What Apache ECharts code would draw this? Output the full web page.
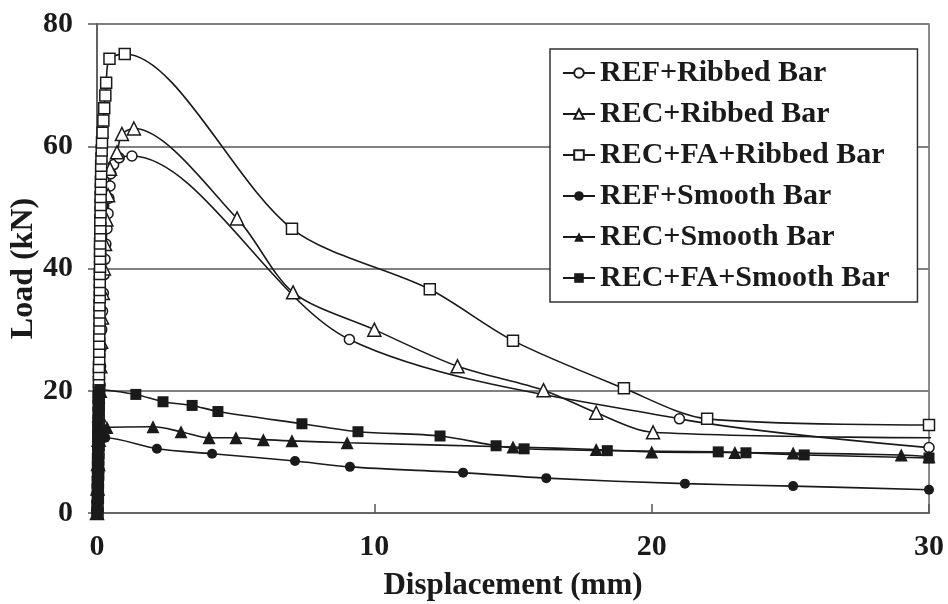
<!DOCTYPE html>
<html>
<head>
<meta charset="utf-8">
<style>
  html, body { margin: 0; padding: 0; background: #ffffff; }
  #chart { width: 948px; height: 604px; }
</style>
<script src="https://cdn.jsdelivr.net/npm/echarts@6/dist/echarts.min.js"></script>
</head>
<body>
<div id="chart"></div>
<script>
// Load–displacement curves of pull-out tests, [displacement (mm), load (kN)]
var seriesNames = [
  'REF+Ribbed Bar',
  'REC+Ribbed Bar',
  'REC+FA+Ribbed Bar',
  'REF+Smooth Bar',
  'REC+Smooth Bar',
  'REC+FA+Smooth Bar'
];

var refRibbed = [
  [0.00, 0], [0.02, 3], [0.03, 6], [0.05, 9], [0.06, 12], [0.08, 15], [0.09, 18],
  [0.11, 21], [0.13, 24], [0.15, 27], [0.17, 30], [0.2, 33], [0.23, 36], [0.26, 39],
  [0.29, 41.5], [0.32, 44], [0.36, 46.5], [0.4, 49], [0.43, 51.5], [0.47, 53.5],
  [0.5, 55.5], [0.6, 57], [0.8, 58.1], [1.26, 58.4], [9.1, 28.4], [21.0, 15.4], [30, 10.7]
];

var recRibbed = [
  [0.00, 0], [0.02, 4], [0.04, 8], [0.06, 12], [0.08, 16], [0.1, 20], [0.12, 24],
  [0.15, 28], [0.18, 32], [0.21, 36], [0.25, 40], [0.29, 44], [0.34, 48], [0.4, 52],
  [0.47, 56.3], [0.72, 59.0], [0.9, 62.0], [1.33, 62.9], [5.05, 48.2], [7.07, 36.1],
  [10.0, 30.0], [13.0, 24.0], [16.1, 20.1], [18.0, 16.4], [20.05, 13.2], [31.5, 12.3]
];

var recFaRibbed = [
  [0.02, 0], [0.02, 1.2], [0.03, 2.5], [0.03, 3.8], [0.03, 5.0], [0.04, 6.3], [0.04, 7.5],
  [0.04, 8.8], [0.05, 10.0], [0.05, 11.3], [0.05, 12.6], [0.05, 13.8], [0.06, 15.1],
  [0.06, 16.3], [0.06, 17.6], [0.06, 18.9], [0.07, 20.1], [0.07, 21.4], [0.07, 22.7],
  [0.07, 23.9], [0.08, 25.2], [0.08, 26.4], [0.08, 27.7], [0.08, 29.0], [0.09, 30.2],
  [0.09, 31.5], [0.09, 32.8], [0.09, 34.0], [0.1, 35.3], [0.1, 36.5], [0.1, 37.8],
  [0.1, 39.1], [0.11, 40.3], [0.11, 41.6], [0.11, 42.9], [0.11, 44.1], [0.12, 45.4],
  [0.12, 46.6], [0.12, 47.9], [0.13, 49.2], [0.13, 50.4], [0.13, 51.7], [0.14, 53.0],
  [0.14, 54.2], [0.15, 55.5], [0.15, 56.8], [0.16, 58.0], [0.17, 59.3], [0.18, 60.6],
  [0.2, 62.2], [0.23, 64.2], [0.26, 66.2], [0.3, 68.3], [0.33, 70.4], [0.45, 74.3],
  [1.0, 75.1], [7.03, 46.5], [12.0, 36.6], [15.0, 28.2], [19.0, 20.4], [22.0, 15.4], [30, 14.4]
];

var refSmooth = [
  [0.01, 0], [0.01, 1.3], [0.02, 2.6], [0.02, 3.9], [0.03, 5.2], [0.03, 6.5], [0.04, 7.8],
  [0.05, 9.1], [0.06, 10.4], [0.1, 11.6], [0.3, 12.3], [2.16, 10.5], [4.15, 9.7],
  [7.14, 8.5], [9.12, 7.55], [13.2, 6.6], [16.2, 5.7], [21.2, 4.8], [25.1, 4.4], [30, 3.8]
];

var recSmooth = [
  [0.01, 0], [0.01, 1.4], [0.02, 2.8], [0.02, 4.2], [0.03, 5.6], [0.03, 7.0], [0.04, 8.4],
  [0.05, 9.8], [0.06, 11.2], [0.08, 12.6], [0.12, 13.6], [0.36, 14.0], [2.02, 14.1],
  [3.03, 13.3], [4.04, 12.3], [5.01, 12.3], [6.0, 12.0], [7.03, 11.8], [9.02, 11.5],
  [15.0, 10.8], [18.0, 10.4], [20.0, 10.0], [23.0, 9.9], [25.1, 9.8], [29.0, 9.5], [30, 9.2]
];

var recFaSmooth = [
  [0.01, 0], [0.01, 1.3], [0.02, 2.6], [0.02, 3.9], [0.02, 5.2], [0.03, 6.5], [0.03, 7.8],
  [0.03, 9.1], [0.04, 10.4], [0.04, 11.7], [0.04, 13.0], [0.05, 14.3], [0.05, 15.6],
  [0.06, 16.9], [0.06, 18.2], [0.08, 19.4], [0.1, 20.2], [1.4, 19.4], [2.38, 18.2],
  [3.43, 17.6], [4.36, 16.6], [7.39, 14.6], [9.41, 13.3], [12.37, 12.6], [14.39, 11.0],
  [15.4, 10.5], [18.4, 10.2], [22.4, 10.0], [23.4, 9.85], [25.5, 9.5], [30, 9.0]
];

var xTicks = { min: 0, max: 30, step: 10 };
var yTicks = { min: 0, max: 80, step: 20 };

var FONT = '"Liberation Serif", "Times New Roman", serif';
var INK = '#1a1a1a';

function curve(name, data, symbol, size, filled) {
  return {
    name: name,
    type: 'line',
    data: data,
    smooth: 0.3,
    clip: true,
    symbol: symbol,
    symbolSize: size,
    showSymbol: true,
    lineStyle: { color: INK, width: 1.6 },
    itemStyle: {
      color: filled ? INK : '#ffffff',
      borderColor: INK,
      borderWidth: filled ? 0 : 1.5
    },
    emphasis: { disabled: true }
  };
}

var chart = echarts.init(document.getElementById('chart'), null, { renderer: 'canvas' });
chart.setOption({
  animation: false,
  backgroundColor: '#ffffff',
  grid: {
    left: 97, right: 19, top: 24, bottom: 91,
    containLabel: false,
    outerBoundsMode: 'none',
    show: true, borderColor: '#666', borderWidth: 1.5, backgroundColor: 'transparent'
  },
  legend: {
    orient: 'vertical',
    left: 550,
    top: 49,
    data: seriesNames,
    itemWidth: 32,
    itemHeight: 12,
    itemGap: 11,
    padding: [9, 28, 9, 12],
    backgroundColor: '#ffffff',
    borderColor: '#333',
    borderWidth: 1.5,
    textStyle: {
      fontFamily: FONT, fontWeight: 'bold', fontSize: 30, color: INK, lineHeight: 30
    }
  },
  xAxis: {
    type: 'value',
    min: xTicks.min, max: xTicks.max, interval: xTicks.step,
    name: 'Displacement (mm)',
    nameLocation: 'middle',
    nameGap: 57,
    nameMoveOverlap: false,
    nameTextStyle: { fontFamily: FONT, fontWeight: 'bold', fontSize: 31, color: INK },
    axisLine: { show: true, onZero: false, lineStyle: { color: '#666', width: 2 } },
    axisTick: { show: true, inside: true, length: 9, lineStyle: { color: '#555', width: 1.5 } },
    axisLabel: { fontFamily: FONT, fontWeight: 'bold', fontSize: 30, color: INK, margin: 19 },
    splitLine: { show: false }
  },
  yAxis: {
    type: 'value',
    min: yTicks.min, max: yTicks.max, interval: yTicks.step,
    name: 'Load (kN)',
    nameLocation: 'middle',
    nameGap: 57,
    nameRotate: 90,
    nameMoveOverlap: false,
    nameTextStyle: { fontFamily: FONT, fontWeight: 'bold', fontSize: 32, color: INK },
    axisLine: { show: true, onZero: false, lineStyle: { color: '#555', width: 1.5 } },
    axisTick: { show: true, inside: false, length: 9, lineStyle: { color: '#555', width: 1.5 } },
    axisLabel: { fontFamily: FONT, fontWeight: 'bold', fontSize: 30, color: INK, margin: 24 },
    splitLine: { show: true, lineStyle: { color: '#808080', width: 2 } }
  },
  series: [
    curve(seriesNames[0], refRibbed, 'circle', 10, false),
    curve(seriesNames[1], recRibbed, 'triangle', 13, false),
    curve(seriesNames[2], recFaRibbed, 'rect', 11, false),
    curve(seriesNames[3], refSmooth, 'circle', 10, true),
    curve(seriesNames[4], recSmooth, 'triangle', 13, true),
    curve(seriesNames[5], recFaSmooth, 'rect', 11, true)
  ]
});
</script>
</body>
</html>
